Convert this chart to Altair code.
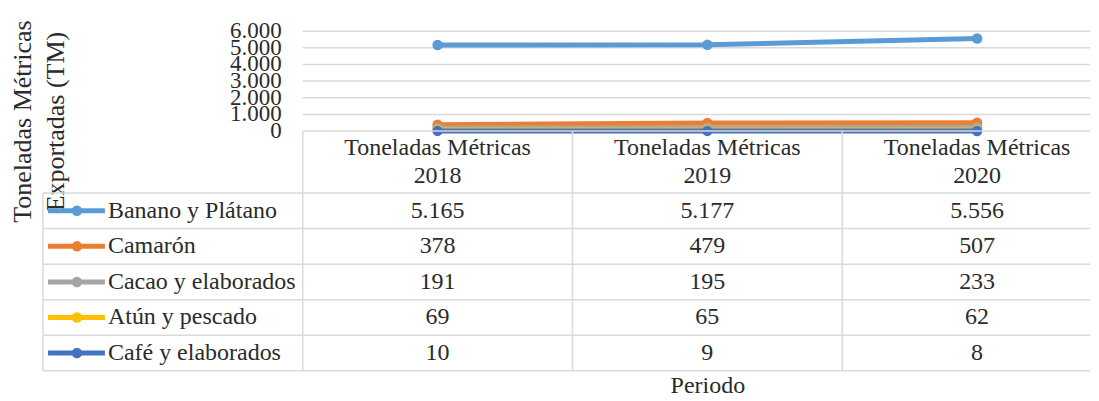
import altair as alt
import pandas as pd

# ---------------- data ----------------
series = ["Banano y Plátano", "Camarón", "Cacao y elaborados", "Atún y pescado", "Café y elaborados"]
colors = ["#5B9BD5", "#ED7D31", "#A5A5A5", "#FFC000", "#4472C4"]
years = ["2018", "2019", "2020"]
banano = [5165, 5177, 5556]
camaron = [378, 479, 507]
cacao = [191, 195, 233]
atun = [69, 65, 62]
cafe = [10, 9, 8]
values = [banano, camaron, cacao, atun, cafe]
y_ticks = [0, 1000, 2000, 3000, 4000, 5000, 6000]
header_prefix = "Toneladas Métricas"
y_title = ["Toneladas Métricas", "Exportadas (TM)"]
x_title = "Periodo"

# ---------------- layout / style ----------------
FONT = "Liberation Serif"
TXT = "#2b2b2b"
GRID = "#D9D9D9"
FS = 24
W = 1083
TOP_H = 123                 # line-chart panel height (value 0 at its bottom)
BOT_H = 259                 # table panel height
COL_PX = 270.0              # width of one data column in px
TABLE_LEFT = 35.0           # px from chart left to table left edge
L = 260.0 / COL_PX          # legend column width in column units
x_dom = [-TABLE_LEFT / COL_PX, (W - TABLE_LEFT) / COL_PX]

TON_PER_PX = 60.0
top_dom = [0, TOP_H * TON_PER_PX]
ROW_PX = 35.6
HDR = 62.0 / ROW_PX
tab_dom = [0, BOT_H / ROW_PX]

def fmt(v):
    return f"{v:,}".replace(",", ".")

xscale = alt.Scale(domain=x_dom, nice=False, zero=False)
xaxis = alt.Axis(title=x_title, labels=False, ticks=False, domain=False, grid=False,
                 titleX=700, titleY=-4, titleBaseline="middle", titleAlign="center",
                 titleFont=FONT, titleFontSize=FS, titleFontWeight="normal", titleColor=TXT)

def XB(f):
    return alt.X(f, type="quantitative", scale=xscale, axis=xaxis)

def XT(f):
    return alt.X(f, type="quantitative", scale=xscale, axis=None)

yaxis_top = alt.Axis(title=y_title, labels=False, ticks=False, domain=False, grid=False,
                     orient="left", titleX=15, titleY=113, titleAngle=270,
                     titleBaseline="middle", titleAlign="center", titleFont=FONT,
                     titleFontSize=26, titleFontWeight="normal", titleColor=TXT,
                     titleLineHeight=33, zindex=1)
top_scale = alt.Scale(domain=top_dom, nice=False, zero=False)

def YT(f):
    return alt.Y(f, type="quantitative", scale=top_scale, axis=yaxis_top)

tab_scale = alt.Scale(domain=tab_dom, reverse=True, nice=False, zero=False)

def YB(f):
    return alt.Y(f, type="quantitative", scale=tab_scale, axis=None)

col_centers = [L + i + 0.5 for i in range(len(years))]

# ---------------- table panel ----------------
hl = pd.DataFrame({"y": [0] + [HDR + i for i in range(len(series) + 1)],
                   "x": [L] + [0] * (len(series) + 1),
                   "x2": [x_dom[1]] * (len(series) + 2)})
vl = pd.DataFrame({"x": [0] + [L + i for i in range(len(years))],
                   "y": [HDR] + [0] * len(years),
                   "y2": [HDR + len(series)] * (len(years) + 1)})
hrules = alt.Chart(hl).mark_rule(color=GRID, strokeWidth=1.5).encode(
    x=XB("x"), x2="x2", y=YB("y"))
vrules = alt.Chart(vl).mark_rule(color=GRID, strokeWidth=1.5).encode(
    x=XB("x"), y=YB("y"), y2="y2")

hdr_df = pd.DataFrame({"x": col_centers, "y": [HDR / 2] * len(years),
                       "t": [f"{header_prefix}\n{yr}" for yr in years]})
hdr_text = alt.Chart(hdr_df).mark_text(font=FONT, fontSize=FS, color=TXT, lineBreak="\n",
                                       lineHeight=28, align="center", baseline="middle",
                                       dy=-14).encode(
    x=XB("x"), y=YB("y"), text="t:N")

cell_rows = []
for i, vals in enumerate(values):
    for xc, v in zip(col_centers, vals):
        cell_rows.append({"x": xc, "y": HDR + i + 0.5, "t": fmt(v)})
cell_text = alt.Chart(pd.DataFrame(cell_rows)).mark_text(
    font=FONT, fontSize=FS, color=TXT, align="center", baseline="middle").encode(
    x=XB("x"), y=YB("y"), text="t:N")

SW0, SWC, SW1, TX = 5 / COL_PX, 34 / COL_PX, 62 / COL_PX, 65 / COL_PX
leg_df = pd.DataFrame({"serie": series, "y": [HDR + i + 0.5 for i in range(len(series))],
                       "x0": [SW0] * len(series), "x1": [SW1] * len(series),
                       "xc": [SWC] * len(series), "xt": [TX] * len(series)})
cscale = alt.Scale(domain=series, range=colors)
leg_line = alt.Chart(leg_df).mark_rule(strokeWidth=5).encode(
    x=XB("x0"), x2="x1", y=YB("y"), color=alt.Color("serie:N", scale=cscale, legend=None))
leg_dot = alt.Chart(leg_df).mark_circle(size=110, opacity=1).encode(
    x=XB("xc"), y=YB("y"), color=alt.Color("serie:N", scale=cscale, legend=None))
leg_text = alt.Chart(leg_df).mark_text(font=FONT, fontSize=FS, color=TXT, align="left",
                                       baseline="middle").encode(
    x=XB("xt"), y=YB("y"), text="serie:N")

table = alt.layer(hrules, vrules, hdr_text, cell_text, leg_line, leg_dot, leg_text).properties(
    width=W, height=BOT_H)

# ---------------- line chart panel ----------------
grid_df = pd.DataFrame({"v": y_ticks[1:], "x": [L] * (len(y_ticks) - 1),
                        "x2": [x_dom[1]] * (len(y_ticks) - 1)})
grid = alt.Chart(grid_df).mark_rule(color=GRID, strokeWidth=1.5).encode(
    x=XT("x"), x2="x2", y=YT("v"))
tick_df = pd.DataFrame({"v": y_ticks, "x": [L] * len(y_ticks), "t": [fmt(t) for t in y_ticks]})
tick_text = alt.Chart(tick_df).mark_text(font=FONT, fontSize=23, color=TXT, align="right",
                                         baseline="middle", dx=-21).encode(
    x=XT("x"), y=YT("v"), text="t:N")

layers = [grid, tick_text]
for s, c, vals in zip(series, colors, values):
    d = pd.DataFrame({"x": col_centers, "v": vals, "year": years})
    layers.append(alt.Chart(d).mark_line(color=c, strokeWidth=5).encode(x=XT("x"), y=YT("v")))
    layers.append(alt.Chart(d).mark_circle(color=c, size=110, opacity=1).encode(x=XT("x"), y=YT("v")))
top = alt.layer(*layers).properties(width=W, height=TOP_H)

chart = alt.vconcat(top, table, spacing=0, bounds="flush").properties(
    padding=0, background="white"
).configure_view(stroke=None)

chart.save("out.html", embed_options={"renderer": "svg", "actions": False})
